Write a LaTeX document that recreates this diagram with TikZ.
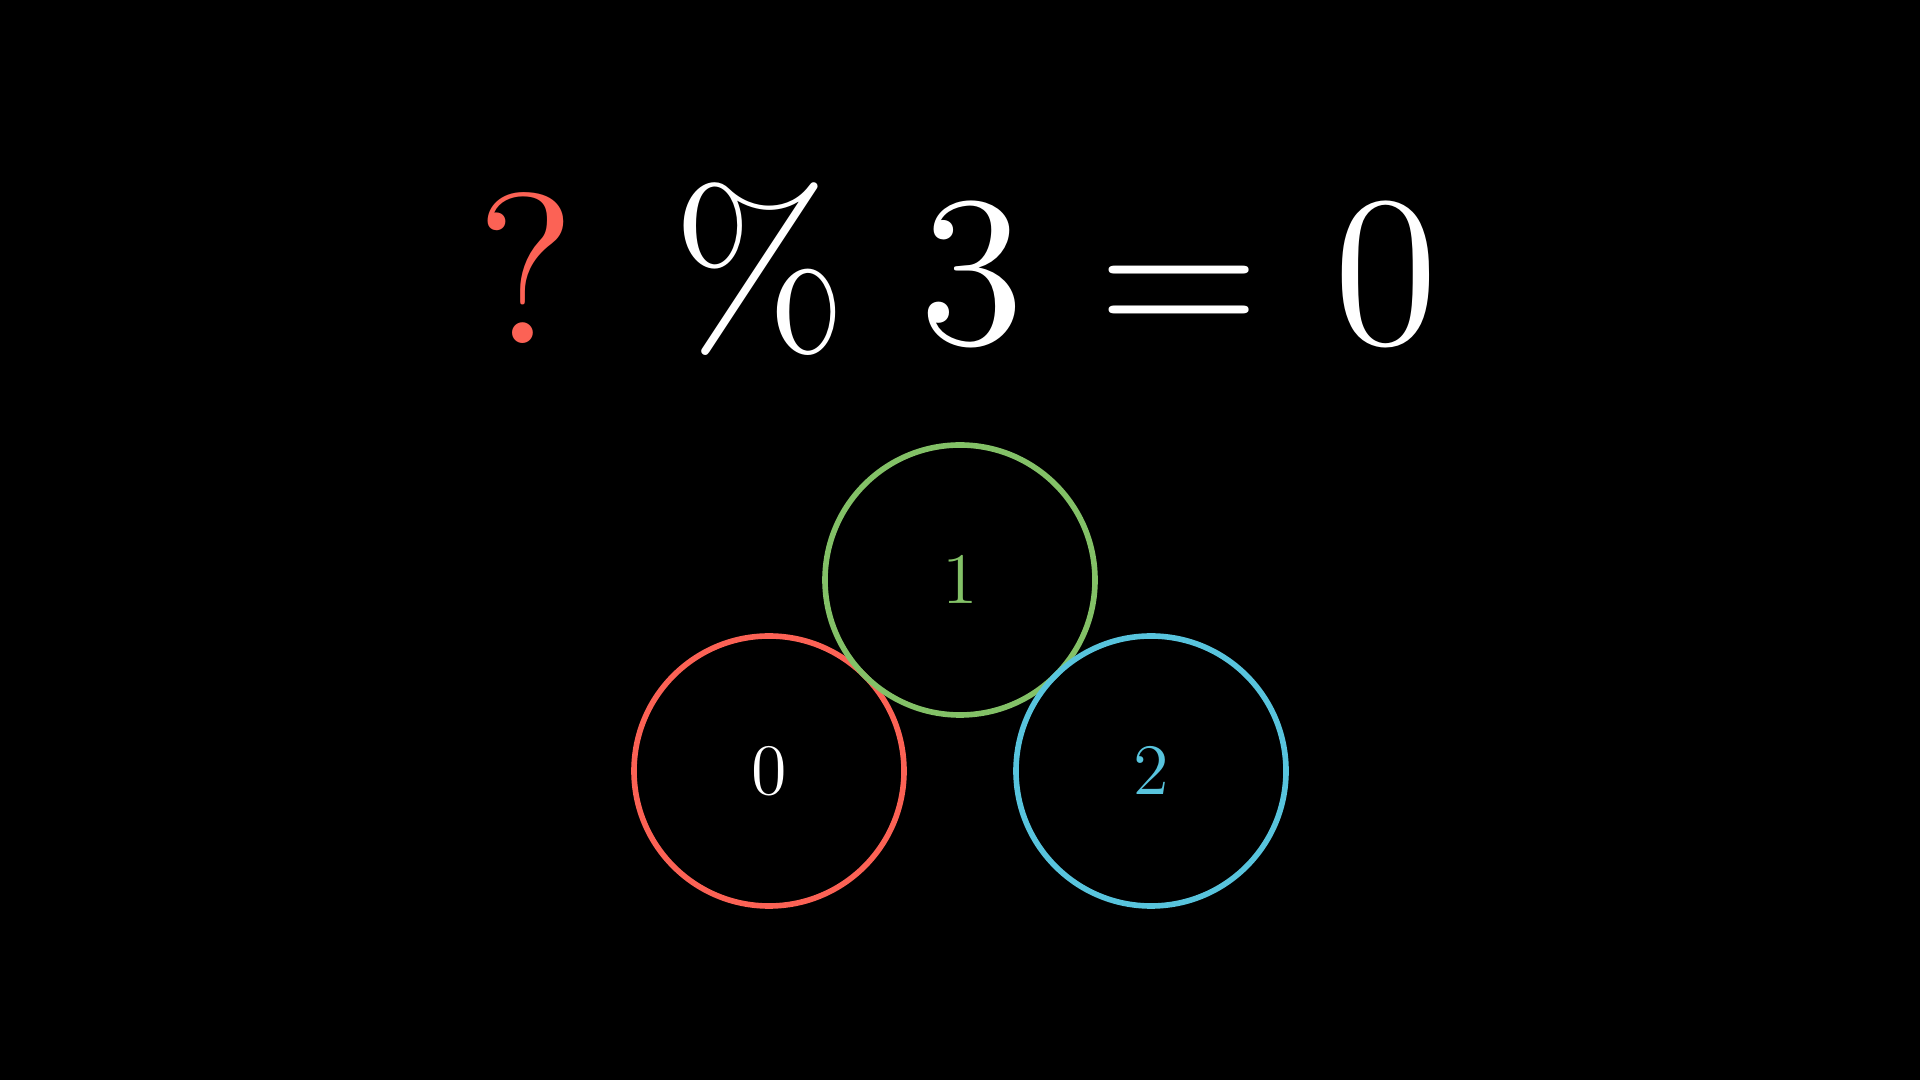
\documentclass[tikz,border=0pt]{standalone}
\usepackage{tikz}
\usetikzlibrary{positioning}
\definecolor{mred}{HTML}{FC6255}
\definecolor{mgreen}{HTML}{83C167}
\definecolor{mblue}{HTML}{58C4DD}
\font\eqfont=cmr12 at 61pt
\font\labfont=cmr12 at 20.6pt

\begin{document}
\begin{tikzpicture}[
    bigsym/.style={
        anchor=base, inner sep=0pt, text=white,
        font=\eqfont
    },
    ring/.style={
        circle, draw, line width=1.6pt,
        minimum size=2.7cm, inner sep=0pt,
        font=\labfont
    }
]

% Background
\fill[black] (0,0) rectangle (19.2,10.8);
\useasboundingbox (0,0) rectangle (19.2,10.8);

% Equation
\node[bigsym, text=mred] (quest) at (5.265,7.36) {?};
\node[bigsym] (mod) at (7.598,7.36) {\%};
\node[bigsym] (three) at (9.722,7.36) {3};
\node[bigsym] (equals) at (11.792,7.36) {=};
\node[bigsym] (zero) at (13.855,7.36) {0};

% Residue circles
\node[ring, draw=mred, text=white] (res0) at (7.69,3.09) {0};
\node[ring, draw=mgreen, text=mgreen] (res1) at (9.6,5.0) {1};
\node[ring, draw=mblue, text=mblue] (res2) at (11.51,3.09) {2};

\end{tikzpicture}
\end{document}
